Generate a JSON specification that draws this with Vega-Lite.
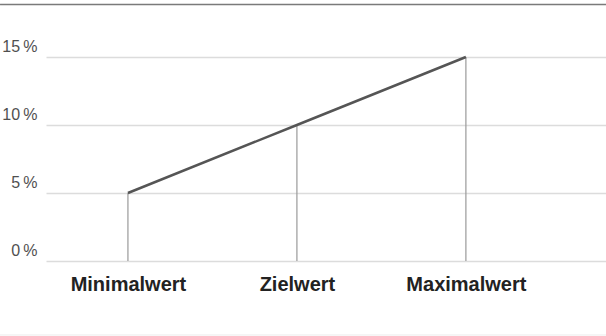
{
  "$schema": "https://vega.github.io/schema/vega-lite/v6.json",
  "autosize": "none",
  "width": 560,
  "height": 204,
  "padding": {"left": 46, "top": 57, "right": 0, "bottom": 75},
  "background": "white",
  "config": {"view": {"stroke": null}, "font": "Liberation Sans"},
  "layer": [
    {
      "data": {"values": [{"a": -0.0821, "b": 1, "pos": -5.44}]},
      "mark": {"type": "rule", "color": "#ececec", "strokeWidth": 1},
      "encoding": {
        "x": {"field": "a", "type": "quantitative", "scale": {"domain": [0, 1], "nice": false, "zero": false}, "axis": null},
        "x2": {"field": "b"},
        "y": {"field": "pos", "type": "quantitative", "scale": {"domain": [0, 15], "nice": false}, "axis": null}
      }
    },
    {
      "data": {"values": [{"a": -0.0821, "b": 1, "pos": 18.86}]},
      "mark": {"type": "rule", "color": "#7a7a7a", "strokeWidth": 1.5},
      "encoding": {
        "x": {"field": "a", "type": "quantitative", "scale": {"domain": [0, 1], "nice": false, "zero": false}, "axis": null},
        "x2": {"field": "b"},
        "y": {"field": "pos", "type": "quantitative", "scale": {"domain": [0, 15], "nice": false}, "axis": null}
      }
    },
    {
      "data": {"values": [
        {"punkt": "Minimalwert", "wert": 5},
        {"punkt": "Zielwert", "wert": 10},
        {"punkt": "Maximalwert", "wert": 15}
      ]},
      "encoding": {
        "x": {
          "field": "punkt", "type": "nominal", "sort": null,
          "scale": {"type": "point", "padding": 0.657, "align": 0.369},
          "axis": {"title": null, "domain": false, "ticks": false, "grid": false, "labelAngle": 0, "labelFont": "Liberation Sans", "labelFontSize": 20, "labelFontWeight": "bold", "labelColor": "#222222", "labelPadding": 13}
        },
        "y": {
          "field": "wert", "type": "quantitative",
          "scale": {"domain": [0, 15], "nice": false},
          "axis": {"title": null, "values": [0, 5, 10, 15], "labelExpr": "datum.value + '\u2009%'", "domain": false, "ticks": false, "grid": true, "gridColor": "#dcdcdc", "gridWidth": 1.5, "labelFont": "Liberation Sans", "labelFontSize": 16, "labelColor": "#505050", "labelPadding": 9, "labelBaseline": "alphabetic", "labelOffset": -6}
        }
      },
      "layer": [
        {"mark": {"type": "rule", "color": "#9a9a9a", "strokeWidth": 1.2}, "encoding": {"y2": {"datum": 0}}},
        {"mark": {"type": "line", "color": "#555555", "strokeWidth": 2.5}}
      ]
    }
  ],
  "resolve": {"scale": {"x": "independent", "y": "independent"}}
}
